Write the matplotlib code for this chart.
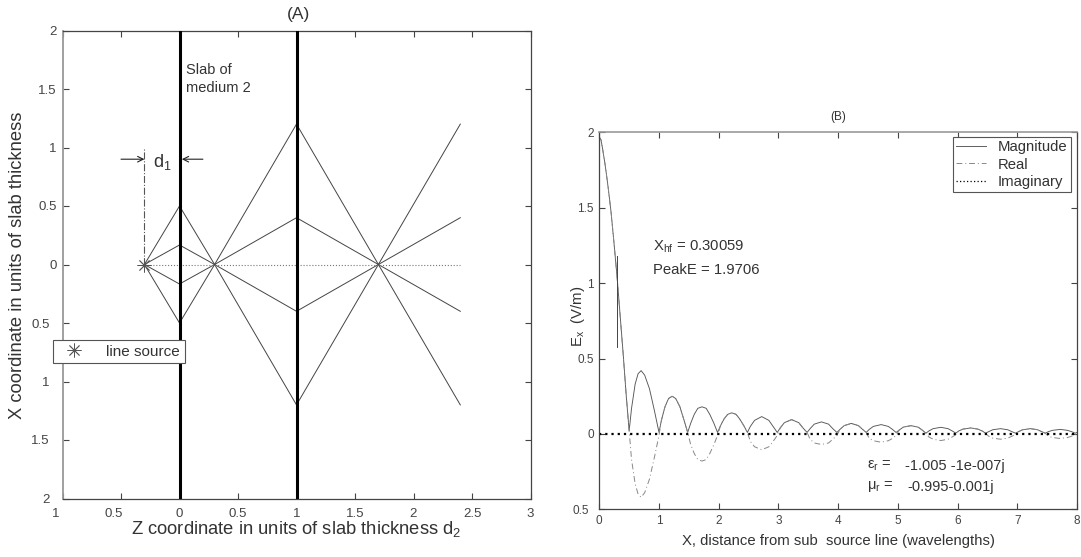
import matplotlib
matplotlib.use("Agg")
import matplotlib.pyplot as plt
from matplotlib.transforms import ScaledTranslation

plt.rcParams["font.family"] = ["Liberation Sans", "DejaVu Sans"]
plt.rcParams["mathtext.default"] = "regular"

W, H = 1081, 557
GRAY = "#999999"
DARK = "#444444"
TEXT = "#333333"

# Panel A: ray paths as (z, x) vertices
ray_z = [-0.3, 0, 0.3, 1, 1.7, 2.4]
ray_outer_up = [0, 0.5, 0, 1.2, 0, 1.2]
ray_outer_down = [0, -0.5, 0, -1.2, 0, -1.2]
ray_inner_up = [0, 0.1667, 0, 0.4, 0, 0.4]
ray_inner_down = [0, -0.1667, 0, -0.4, 0, -0.4]
axis_ray_z = [-0.3, 2.4]
axis_ray_x = [0, 0]
slab_faces = [0, 1]
source_z = [-0.3]
source_x = [0]

a_xticks = [-1, -0.5, 0, 0.5, 1, 1.5, 2, 2.5, 3]
a_xlabels = ["1", "0.5", "0", "0.5", "1", "1.5", "2", "2.5", "3"]
a_yticks = [-2, -1.5, -1, -0.5, 0, 0.5, 1, 1.5, 2]
a_ylabels = ["2", "1.5", "1", "0.5", "0", "0.5", "1", "1.5", "2"]

# Panel B: field along the line, read arch by arch
dist = [
    0, 0.03, 0.06, 0.1, 0.15, 0.2, 0.25, 0.3, 0.35, 0.4, 0.45, 0.5,
    0.54, 0.6, 0.65, 0.7, 0.76, 0.84, 0.92, 1,
    1.04, 1.1, 1.16, 1.22, 1.28, 1.35, 1.42, 1.48,
    1.53, 1.59, 1.65, 1.72, 1.79, 1.85, 1.92, 1.98,
    2.03, 2.09, 2.15, 2.22, 2.29, 2.35, 2.42, 2.48,
    2.53, 2.6, 2.72, 2.84, 2.91, 2.98,
    3.03, 3.1, 3.22, 3.34, 3.41, 3.48,
    3.53, 3.6, 3.72, 3.84, 3.91, 3.98,
    4.03, 4.1, 4.22, 4.34, 4.41, 4.47,
    4.52, 4.59, 4.72, 4.84, 4.91, 4.97,
    5.02, 5.09, 5.22, 5.34, 5.41, 5.47,
    5.52, 5.59, 5.72, 5.84, 5.91, 5.97,
    6.02, 6.09, 6.22, 6.34, 6.41, 6.47,
    6.52, 6.59, 6.72, 6.84, 6.91, 6.97,
    7.02, 7.09, 7.22, 7.34, 7.41, 7.47,
    7.52, 7.59, 7.72, 7.84, 7.91, 7.97, 8,
]
magnitude = [
    1.97, 1.95, 1.88, 1.78, 1.63, 1.46, 1.25, 1.03, 0.78, 0.53, 0.26, 0.02,
    0.17, 0.33, 0.40, 0.42, 0.39, 0.30, 0.16, 0.01,
    0.09, 0.18, 0.235, 0.25, 0.235, 0.18, 0.09, 0.01,
    0.07, 0.13, 0.17, 0.18, 0.17, 0.13, 0.07, 0.01,
    0.055, 0.10, 0.13, 0.14, 0.13, 0.10, 0.055, 0.01,
    0.05, 0.09, 0.115, 0.09, 0.05, 0.01,
    0.04, 0.075, 0.095, 0.075, 0.04, 0.01,
    0.035, 0.065, 0.08, 0.065, 0.035, 0.01,
    0.03, 0.055, 0.07, 0.055, 0.03, 0.01,
    0.03, 0.05, 0.062, 0.05, 0.03, 0.01,
    0.025, 0.045, 0.055, 0.045, 0.025, 0.005,
    0.02, 0.035, 0.044, 0.035, 0.02, 0.005,
    0.02, 0.032, 0.04, 0.032, 0.02, 0.005,
    0.015, 0.028, 0.035, 0.028, 0.015, 0.005,
    0.015, 0.028, 0.035, 0.028, 0.015, 0.005,
    0.015, 0.024, 0.03, 0.024, 0.015, 0.005, 0.01,
]
real = [
    1.97, 1.95, 1.88, 1.78, 1.63, 1.46, 1.25, 1.03, 0.78, 0.53, 0.26, 0.02,
    -0.17, -0.33, -0.40, -0.42, -0.39, -0.30, -0.16, -0.01,
    0.09, 0.18, 0.235, 0.25, 0.235, 0.18, 0.09, 0.01,
    -0.07, -0.13, -0.17, -0.18, -0.17, -0.13, -0.07, -0.01,
    0.055, 0.10, 0.13, 0.14, 0.13, 0.10, 0.055, 0.01,
    -0.05, -0.085, -0.105, -0.085, -0.05, -0.01,
    0.04, 0.075, 0.095, 0.075, 0.04, 0.01,
    -0.035, -0.06, -0.07, -0.06, -0.035, -0.01,
    0.03, 0.055, 0.07, 0.055, 0.03, 0.01,
    -0.03, -0.045, -0.055, -0.045, -0.03, -0.01,
    0.025, 0.045, 0.055, 0.045, 0.025, 0.005,
    -0.02, -0.035, -0.044, -0.035, -0.02, -0.005,
    0.02, 0.032, 0.04, 0.032, 0.02, 0.005,
    -0.015, -0.028, -0.035, -0.028, -0.015, -0.005,
    0.015, 0.028, 0.035, 0.028, 0.015, 0.005,
    -0.015, -0.024, -0.03, -0.024, -0.015, -0.005, 0.01,
]
imag_x = [0, 8]
imag_y = [0, 0]
xhf_x = [0.30, 0.30]
xhf_y = [0.58, 1.18]

b_xticks = [0, 1, 2, 3, 4, 5, 6, 7, 8]
b_yticks = [-0.5, 0, 0.5, 1, 1.5, 2]
b_ylabels = ["0.5", "0", "0.5", "1", "1.5", "2"]


def axes_px(fig, left, top, right, bottom):
    return fig.add_axes([left / W, 1 - bottom / H, (right - left) / W, (bottom - top) / H])


def label(fig, x, y, s, size, **kw):
    kw.setdefault("color", TEXT)
    kw.setdefault("ha", "left")
    kw.setdefault("va", "center")
    return fig.text(x / W, 1 - y / H, s, fontsize=size, **kw)


def style_axes(ax, tick_size):
    for spine in ax.spines.values():
        spine.set_color(DARK)
        spine.set_linewidth(0.9)
    ax.tick_params(direction="in", length=4, width=0.8, color=DARK, top=True, right=True,
                   labelsize=tick_size, labelcolor="#444444", pad=4)


def nudge_left(tick_labels, px):
    # the labels of negative ticks lost their minus sign but kept its room
    for t in tick_labels:
        t.set_transform(t.get_transform() + ScaledTranslation(-px / 100, 0, fig.dpi_scale_trans))


fig = plt.figure(figsize=(W / 100, H / 100), dpi=100)

# Panel A
ax = axes_px(fig, 62.5, 30.5, 530.5, 498.5)
for ray in [ray_outer_up, ray_outer_down, ray_inner_up, ray_inner_down]:
    ax.plot(ray_z, ray, color="#444444", lw=0.7)
ax.plot(axis_ray_z, axis_ray_x, color="#777777", lw=0.8, ls=":")
for face in slab_faces:
    ax.axvline(face, color="black", lw=2.2, zorder=3)
ax.plot(source_z, source_x, ls="none", marker=(8, 2, 0), color="#555555", ms=10, mew=0.6,
        zorder=4, label="line source")
ax.plot([-0.3, -0.3], [0, 1.0], color="#555555", lw=0.8, ls="-.")
ax.annotate("", xy=(-0.3, 0.9), xytext=(-0.5, 0.9),
            arrowprops=dict(arrowstyle="->", color="#222222", lw=0.8, shrinkA=0, shrinkB=0))
ax.annotate("", xy=(0.02, 0.9), xytext=(0.2, 0.9),
            arrowprops=dict(arrowstyle="->", color="#222222", lw=0.8, shrinkA=0, shrinkB=0))
ax.set_xlim(-1, 3)
ax.set_ylim(-2, 2)
ax.set_xticks(a_xticks, a_xlabels)
ax.set_yticks(a_yticks, a_ylabels)
style_axes(ax, 9.5)
ax.spines["left"].set_color(GRAY)
ax.spines["left"].set_linewidth(1.3)
ax.tick_params(axis="x", pad=7)
nudge_left(ax.get_xticklabels()[:2], 7)
nudge_left(ax.get_yticklabels()[:4], 7)
leg = ax.legend(loc="upper left", bbox_to_anchor=(53 / W, 1 - 340 / H), bbox_transform=fig.transFigure,
                fontsize=11, fancybox=False, framealpha=1, edgecolor="#555555", borderaxespad=0,
                handletextpad=1.0, borderpad=0.3, handlelength=2.2, numpoints=1)
leg.get_frame().set_linewidth(0.8)
leg.set_zorder(5)
for t in leg.get_texts():
    t.set_color(TEXT)

label(fig, 298, 15, "(A)", 12.5, ha="center")
label(fig, 186, 70, "Slab of", 10.5)
label(fig, 186, 88, "medium 2", 10.5)
label(fig, 153, 162, "d$_1$", 13)
label(fig, 131, 529, "Z coordinate in units of slab thickness d$_2$", 13.2)
label(fig, 18, 265, "X coordinate in units of slab thickness", 13.2, rotation=90, ha="center")

# Panel B
bx = axes_px(fig, 599.3, 132.5, 1077, 509.3)
bx.plot(dist, magnitude, color="#555555", lw=0.65, label="Magnitude")
bx.plot(dist, real, color="#888888", lw=0.7, ls=(0, (6, 3, 1, 3)), label="Real")
bx.plot(imag_x, imag_y, color="black", lw=1.6, ls=(0, (1, 1.8)), label="Imaginary")
bx.plot(xhf_x, xhf_y, color="#444444", lw=0.7)
bx.set_xlim(0, 8)
bx.set_ylim(-0.5, 2)
bx.set_xticks(b_xticks)
bx.set_yticks(b_yticks, b_ylabels)
style_axes(bx, 8.5)
bx.spines["top"].set_color(GRAY)
bx.spines["top"].set_linewidth(1.2)
nudge_left(bx.get_yticklabels()[:1], 5)
leg2 = bx.legend(loc="upper left", bbox_to_anchor=(953 / W, 1 - 137 / H), bbox_transform=fig.transFigure,
                 fontsize=10.7, fancybox=False, framealpha=1, edgecolor="#555555", borderaxespad=0,
                 handlelength=2.0, handletextpad=0.8, labelspacing=0.22, borderpad=0.22)
leg2.get_frame().set_linewidth(0.8)
leg2.get_lines()[2].set_linewidth(0.9)
for t in leg2.get_texts():
    t.set_color(TEXT)

label(fig, 838, 117, "(B)", 8.5, ha="center")
label(fig, 653, 247, "X$_{hf}$ = 0.30059", 10.7)
label(fig, 653, 270, "PeakE = 1.9706", 10.7)
label(fig, 867, 466, "ε$_r$ =", 10.5)
label(fig, 905, 466, "-1.005 -1e-007j", 10.5)
label(fig, 867, 487, "μ$_r$ =", 10.5)
label(fig, 907, 487, "-0.995-0.001j", 10.5)
label(fig, 682, 541, "X, distance from sub  source line (wavelengths)", 10.7)
label(fig, 578, 316, "E$_x$  (V/m)", 10.7, rotation=90, ha="center")

fig.savefig("out.png", dpi=100)
